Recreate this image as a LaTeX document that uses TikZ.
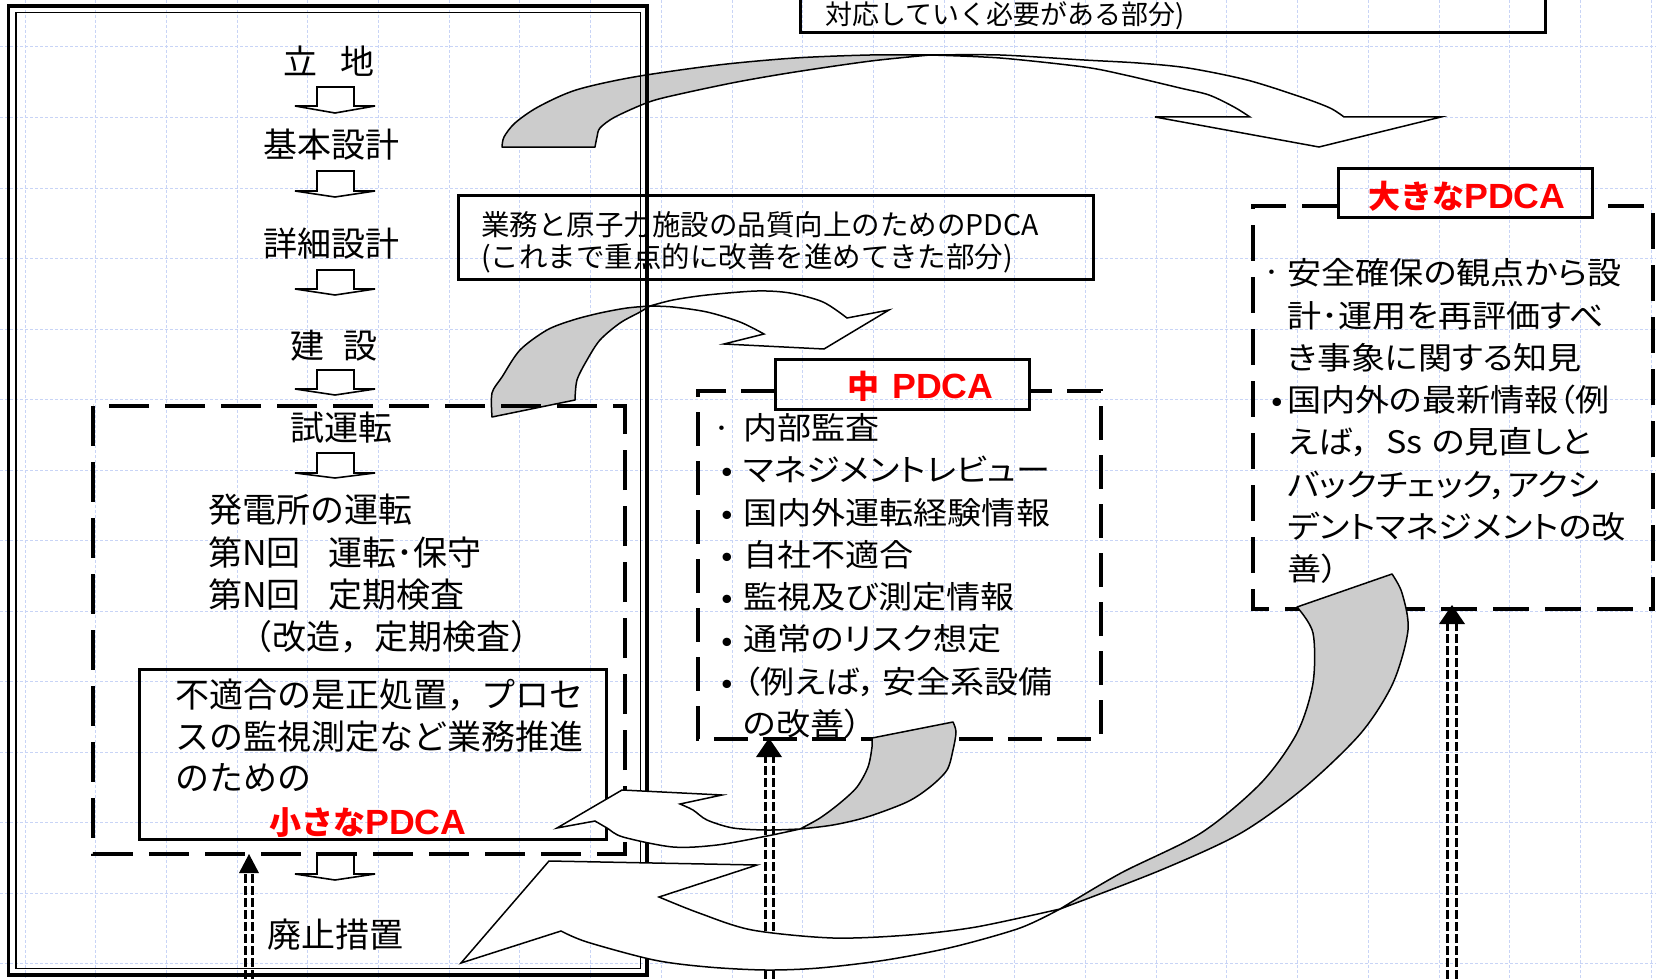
\documentclass[tikz,border=0pt]{standalone}
\usepackage{fontspec}
\setmainfont{Noto Sans CJK JP}
\newfontfamily\jpw{Noto Sans CJK JP}[FakeStretch=1.1,RawFeature=+palt]
\newfontfamily\jpb{Noto Sans CJK JP}
\newfontfamily\arb{Liberation Sans}[FakeStretch=1.02]
\definecolor{gridc}{RGB}{200,212,246}
\definecolor{redl}{RGB}{255,0,0}
\definecolor{greyf}{RGB}{204,204,204}
\newcommand{\redcjk}[1]{{\jpb\bfseries\fontsize{32}{38}\selectfont #1}}
\newcommand{\redlat}{{\arb\bfseries\fontsize{35}{40}\selectfont PDCA}}
\begin{document}
\begin{tikzpicture}[x=1pt,y=-1pt,
  gridln/.style={draw=gridc, line width=1pt, dash pattern=on 3pt off 2pt},
  solidbox/.style={draw=black, line width=3pt},
  dashbox/.style={draw=black, line width=4pt, dash pattern=on 40pt off 16pt},
  harrowst/.style={draw=black, fill=white, line width=1.6pt, line join=miter},
  garrow/.style={draw=black, fill=greyf, line width=1.5pt, line join=round},
  warrow/.style={draw=black, fill=white, line width=1.5pt, line join=miter},
  ddline/.style={draw=black, line width=3pt, dash pattern=on 9pt off 3pt},
  txtL/.style={inner sep=0pt, font=\fontsize{34}{40}\selectfont, text height=29.9pt, text depth=4.1pt},
  txtW/.style={inner sep=0pt, anchor=west, font=\jpw\fontsize{31}{37}\selectfont, text height=27.3pt, text depth=3.7pt},
  txtG/.style={inner sep=0pt, anchor=west, font=\fontsize{28.5}{34}\selectfont, text height=25.1pt, text depth=3.4pt},
  txtT/.style={inner sep=0pt, anchor=west, font=\fontsize{27}{32}\selectfont, text height=23.8pt, text depth=3.2pt},
  redlbl/.style={inner sep=0pt, anchor=west, text=redl, text height=28.2pt, text depth=3.8pt},
  bulst/.style={inner sep=0pt, font=\jpw\fontsize{31}{37}\selectfont, text height=27.3pt, text depth=3.7pt},
]
\useasboundingbox (0,0) rectangle (1656,979);
\clip (0,0) rectangle (1656,979);
\fill[white] (0,0) rectangle (1656,979);
% grid
\foreach \i in {0,...,23} \draw[gridln] ({25+70.7*\i},0) -- ({25+70.7*\i},979);
\foreach \j in {0,...,13} \draw[gridln] (0,{47+70.5*\j}) -- (1656,{47+70.5*\j});

% arrow A (top, to big PDCA)
\filldraw[garrow] (502,147) -- plot[smooth] coordinates {(502,147) (504,137) (515,123) (538,107) (576,90) (634,77) (718,65) (795,58) (870,55) (930,55)}
  -- plot[smooth] coordinates {(930,55) (871,61) (795,72) (737,82) (680,94) (649,102) (615,117) (600,128) (597,137) (595,147)} -- cycle;
\filldraw[warrow] (930,55) -- plot[smooth] coordinates {(930,55) (1000,55) (1084,60) (1138,63) (1188,68) (1247,80) (1301,97) (1330,108) (1344,117)}
  -- (1441,117) -- (1319,147) -- (1155,117) -- (1250,117)
  -- plot[smooth] coordinates {(1250,117) (1234,107) (1209,95) (1180,88) (1125,75) (1084,67) (1000,58) (930,55)} -- cycle;

% arrow B (middle, to mid PDCA)
\filldraw[garrow] (492,417) -- plot[smooth] coordinates {(492,417) (492,393) (502,377) (520,350) (547,330) (573,320) (600,313) (627,308) (650,306)}
  -- plot[smooth] coordinates {(650,306) (640,312) (620,323) (600,340) (587,360) (577,380) (575,400)} -- cycle;
\filldraw[warrow] (650,306) -- plot[smooth] coordinates {(650,306) (673,300) (707,295) (757,291) (790,293) (823,302) (847,318)}
  -- (889,310) -- (824,349) -- (724,344) -- (764,334)
  -- plot[smooth] coordinates {(764,334) (740,322) (707,312) (673,307) (650,306)} -- cycle;

% outer double box
\draw[line width=3.5pt] (8.5,6) rectangle (647,975);
\draw[line width=1.5pt] (16,12.5) rectangle (640.5,968.5);

% top box (cut off)
\draw[solidbox] (800,-60) rectangle (1545,33);
\node[txtT] (taiou) at (825,14) {対応していく必要がある部分)};

% gyomu box
\draw[solidbox] (458,195) rectangle (1093,279);
\node[txtG] (gyomu1) at (481,225) {業務と原子力施設の品質向上のためのPDCA};
\node[txtG] (gyomu2) at (481,257) {(これまで重点的に改善を進めてきた部分)};

% left column hollow arrows
\foreach \t/\b/\p in {87/106/113, 171/191/197, 270/289/295, 370/389/395, 453/473/478, 853/874/880}
  \filldraw[harrowst] (317,\t) -- (354,\t) -- (354,\b) -- (375,\b) -- (335,\p) -- (295,\b) -- (317,\b) -- cycle;

% left dashed group box and inner solid box
\draw[dashbox] (93,406) rectangle (625,854);
\draw[solidbox] (139,669) rectangle (606,839);

% left column text
\node[txtL] (ritchi) at (329,62) {立\hspace{24pt}地};
\node[txtL] (kihon) at (331,145) {基本設計};
\node[txtL] (shosai) at (331,244) {詳細設計};
\node[txtL] (kensetsu) at (334,346) {建\hspace{19pt}設};
\node[txtL] (shiunten) at (341,428) {試運転};
\node[txtL, anchor=west] (hatsu) at (208,510) {発電所の運転};
\node[txtL, anchor=west] (dainA) at (208,553) {第N回\hspace{28pt}運転･保守};
\node[txtL, anchor=west] (dainB) at (208,595) {第N回\hspace{28pt}定期検査};
\node[txtL, anchor=west] (kaizo) at (238,637) {（改造，定期検査）};
\node[txtL] (haishi) at (335,935) {廃止措置};
\node[txtL, anchor=west] (fu1) at (175,695) {不適合の是正処置，プロセ};
\node[txtL, anchor=west] (fu2) at (175,737) {スの監視測定など業務推進};
\node[txtL, anchor=west] (fu3) at (175,778) {のための};
\node[redlbl] (smallpdca) at (269,822) {\redcjk{小さな}\redlat};

% middle PDCA box
\draw[dashbox, dash pattern=on 34pt off 15pt] (775,391) -- (698,391) -- (698,739) -- (1101,739) -- (1101,391) -- (1029,391);
\draw[solidbox] (775,359) rectangle (1029,409);
\node[redlbl] (midpdca) at (847,386) {\redcjk{中}\hspace{13pt}\redlat};
\node[bulst] (mb1) at (722,428) {\makebox[0pt]{·}};
\foreach \n/\yy in {2/470,3/513,4/555,5/597,6/640,7/682} \node[bulst] (mb\n) at (727,\yy) {\makebox[0pt]{•}};
\node[txtW] (m1) at (743,428) {内部監査};
\node[txtW] (m2) at (743,470) {マネジメントレビュー};
\node[txtW] (m3) at (743,513) {国内外運転経験情報};
\node[txtW] (m4) at (743,555) {自社不適合};
\node[txtW] (m5) at (743,597) {監視及び測定情報};
\node[txtW] (m6) at (743,639) {通常のリスク想定};
\node[txtW] (m7) at (743,682) {（例えば，\hspace{6pt}安全系設備};
\node[txtW] (m8) at (743,724) {の改善）};

% big PDCA box
\draw[dashbox, dash pattern=on 36pt off 16pt] (1338,206) -- (1253,206) -- (1253,609) -- (1653,609) -- (1653,206) -- (1592,206);
\draw[solidbox] (1338,168) rectangle (1592,217);
\node[redlbl] (bigpdca) at (1368,196) {\redcjk{大きな}\redlat};
\node[bulst] (bb1) at (1272,272) {\makebox[0pt]{·}};
\node[bulst] (bb2) at (1277,400) {\makebox[0pt]{•}};
\node[txtW] (b1) at (1287,273) {安全確保の観点から設};
\node[txtW] (b2) at (1287,316) {計･運用を再評価すべ};
\node[txtW] (b3) at (1287,358) {き事象に関する知見};
\node[txtW] (b4) at (1287,400) {国内外の最新情報（例};
\node[txtW] (b5) at (1287,442) {えば，\hspace{17pt}Ss\hspace{9pt}の見直しと};
\node[txtW] (b6) at (1287,485) {バックチェック，アクシ};
\node[txtW] (b7) at (1287,527) {デントマネジメントの改};
\node[txtW] (b8) at (1287,569) {善）};

% arrow C (mid PDCA -> small PDCA)
\filldraw[garrow] (872,738) -- (953,722) -- plot[smooth] coordinates {(953,722) (956,732) (953,750) (947,770) (930,787) (907,802) (867,817) (833,825) (800,829)}
  -- plot[smooth] coordinates {(800,829) (820,818) (840,803) (857,787) (868,767) (872,747) (872,738)} -- cycle;
\filldraw[warrow] (800,829) -- plot[smooth] coordinates {(800,829) (767,830) (733,828) (707,820) (693,810) (680,804)}
  -- (722,795) -- (622,790) -- (557,828) -- (595,821)
  -- plot[smooth] coordinates {(595,821) (607,828) (623,837) (673,847) (717,845) (767,836) (800,829)} -- cycle;

% dotted double connectors from below
\foreach \n/\xx/\ty/\hw/\sp in {1/249/854/10/3.5, 2/769/738/13/4, 3/1452/605/13/4.5}{
  \coordinate (src\n) at (\xx,979);
  \coordinate (dst\n) at (\xx,\ty);
  \draw[ddline] ([shift={(-\sp,0)}]src\n) -- ([shift={(-\sp,18)}]dst\n);
  \draw[ddline] ([shift={(\sp,0)}]src\n) -- ([shift={(\sp,18)}]dst\n);
  \fill[black] (dst\n) -- ([shift={(-\hw,19)}]dst\n) -- ([shift={(\hw,19)}]dst\n) -- cycle;
}

% arrow D (big PDCA -> decommissioning)
\filldraw[garrow] (1297,607) -- (1392,574) -- plot[smooth] coordinates {(1392,574) (1402,593) (1408,630) (1393,683) (1361,733) (1305,787) (1241,833) (1161,870) (1060,909)}
  -- plot[smooth] coordinates {(1060,909) (1121,873) (1201,833) (1261,783) (1297,733) (1313,683) (1313,633) (1297,607)} -- cycle;
\filldraw[warrow] (1060,909) -- plot[smooth] coordinates {(1060,909) (976,927) (909,935) (833,938) (752,930) (699,913) (659,897)}
  -- (757,865) -- (549,861) -- (461,963) -- (561,931)
  -- plot[smooth] coordinates {(561,931) (587,942) (654,960) (708,967) (766,970) (819,968) (886,960) (953,947) (1020,928) (1060,909)} -- cycle;
\end{tikzpicture}
\end{document}
